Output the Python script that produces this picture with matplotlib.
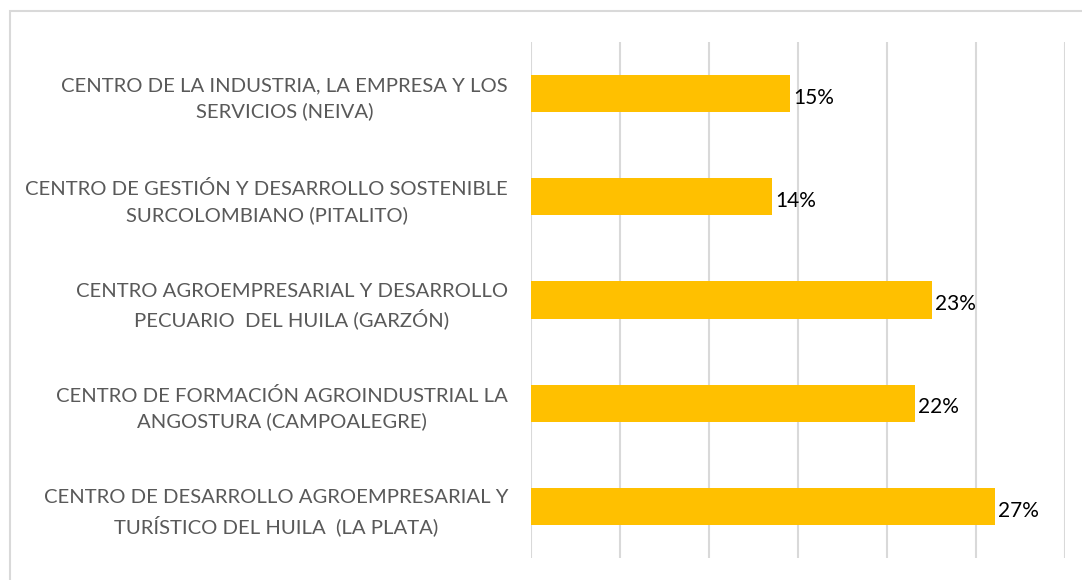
import matplotlib
matplotlib.use("Agg")
import matplotlib.pyplot as plt
from matplotlib.patches import Rectangle

# categories top to bottom, as in the reference
centros = [
    "CENTRO DE LA INDUSTRIA, LA EMPRESA Y LOS\nSERVICIOS (NEIVA)",
    "CENTRO DE GESTIÓN Y DESARROLLO SOSTENIBLE\nSURCOLOMBIANO (PITALITO)",
    "CENTRO AGROEMPRESARIAL Y DESARROLLO\nPECUARIO  DEL HUILA (GARZÓN)",
    "CENTRO DE FORMACIÓN AGROINDUSTRIAL LA\nANGOSTURA (CAMPOALEGRE)",
    "CENTRO DE DESARROLLO AGROEMPRESARIAL Y\nTURÍSTICO DEL HUILA  (LA PLATA)",
]
# bar lengths (axis 0-30, gridline every 5)
valores = [14.55, 13.54, 22.53, 21.57, 26.07]
etiquetas = ["15%", "14%", "23%", "22%", "27%"]

plt.rcParams["font.family"] = ["Lato", "DejaVu Sans"]

fig = plt.figure(figsize=(10.82, 5.80), dpi=100)
# light grey frame of the original chart area
fig.patches.append(Rectangle((10 / 1082, -0.1), 1.2, (580 - 11) / 580 + 0.1,
                             transform=fig.transFigure, fill=False,
                             edgecolor="#d9d9d9", linewidth=1.5))

ax = fig.add_axes([531 / 1082, 22 / 580, 534 / 1082, 516 / 580])
y = list(range(len(centros)))
ax.barh(y, valores, height=0.36, color="#ffc000")
ax.set_ylim(len(centros) - 0.5, -0.5)
ax.set_xlim(0, 30)
ax.set_xticks(range(0, 31, 5))
ax.set_xticklabels([])
ax.tick_params(axis="x", length=0)
ax.tick_params(axis="y", length=0, pad=16.5)
ax.set_yticks(y)
ax.set_yticklabels(centros, fontsize=14.6, color="#595959",
                   multialignment="center", linespacing=1.5)
ax.grid(axis="x", color="#d9d9d9", linewidth=1.5)
ax.set_axisbelow(True)
for s in ax.spines.values():
    s.set_visible(False)

for yi, v, t in zip(y, valores, etiquetas):
    ax.annotate(t, (v, yi), xytext=(2, -3), textcoords="offset points",
                ha="left", va="center", fontsize=15, color="#000000")

fig.savefig("out.png", dpi=100)
